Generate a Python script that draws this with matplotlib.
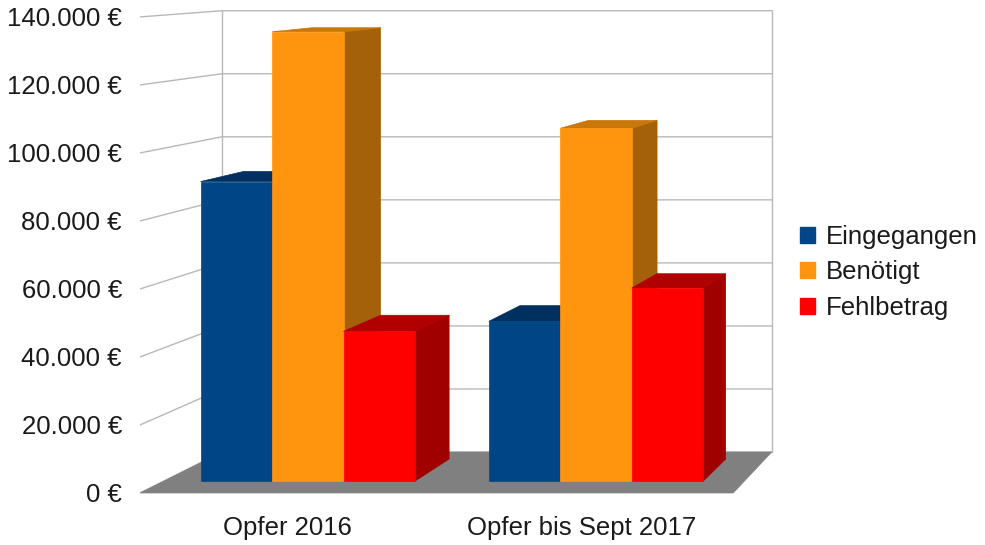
import matplotlib.pyplot as plt
from matplotlib.patches import Polygon, Patch
from matplotlib.ticker import FuncFormatter

plt.rcParams['font.family'] = ['Liberation Sans', 'DejaVu Sans']

# data
categories = ["Opfer 2016", "Opfer bis Sept 2017"]
series = ["Eingegangen", "Benötigt", "Fehlbetrag"]
eingegangen = [90000, 48000]
benoetigt = [135000, 106000]
fehlbetrag = [45000, 58000]
values = [eingegangen, benoetigt, fehlbetrag]

# colours: front, top, side
front_colors = ["#004586", "#ff950e", "#ff0000"]
top_colors = ["#00305f", "#c9760b", "#b00000"]
side_colors = ["#003566", "#a5610a", "#a00000"]

# fake 3D (perspective toward a vanishing point up-right)
VX, VY = 3.31, 165000
S_BACK = 0.927
Z_FRONT, Z_BACK = 0.29, 0.83
X_LEFT, X_RIGHT = -0.5, 1.515
BAR_W = 0.248


def proj(x, y, z):
    s = 1 - (1 - S_BACK) * z
    return VX + (x - VX) * s, VY + (y - VY) * s


fig = plt.figure(figsize=(9.85, 5.45), dpi=100)
ax = fig.add_axes([140 / 985, 52 / 545, 640 / 985, 489 / 545])
ax.set_xlim(-0.5, 1.674)
ax.set_ylim(0, 143800)
ax.patch.set_visible(False)
for sp in ax.spines.values():
    sp.set_visible(False)

grid_c = "#b8b8b8"
ymax = 140000
ticks = list(range(0, ymax + 1, 20000))

# back wall + left wall gridlines
for t in ticks:
    bx0, by0 = proj(X_LEFT, t, 1)
    bx1, by1 = proj(X_RIGHT, t, 1)
    fx, fy = proj(X_LEFT, t, 0)
    ax.plot([fx, bx0, bx1], [fy, by0, by1], color=grid_c, lw=1, zorder=1)
for xe in (X_LEFT, X_RIGHT):
    x0, y0 = proj(xe, 0, 1)
    x1, y1 = proj(xe, ymax, 1)
    ax.plot([x0, x1], [y0, y1], color=grid_c, lw=1, zorder=1)

# floor
floor = [proj(X_LEFT, 0, 0), proj(X_RIGHT, 0, 0), proj(X_RIGHT, 0, 1), proj(X_LEFT, 0, 1)]
ax.add_patch(Polygon(floor, closed=True, fc="#808080", ec="#808080", lw=0.5, zorder=2, clip_on=False))

# bars, left to right
z = 3
for ci in range(len(categories)):
    for si in range(len(series)):
        h = values[si][ci]
        x0 = ci + (si - 1.5) * BAR_W
        x1 = x0 + BAR_W
        side = [proj(x1, 0, Z_FRONT), proj(x1, 0, Z_BACK), proj(x1, h, Z_BACK), proj(x1, h, Z_FRONT)]
        top = [proj(x0, h, Z_FRONT), proj(x1, h, Z_FRONT), proj(x1, h, Z_BACK), proj(x0, h, Z_BACK)]
        front = [proj(x0, 0, Z_FRONT), proj(x1, 0, Z_FRONT), proj(x1, h, Z_FRONT), proj(x0, h, Z_FRONT)]
        ax.add_patch(Polygon(side, closed=True, fc=side_colors[si], ec=side_colors[si], lw=0.5, zorder=z))
        ax.add_patch(Polygon(top, closed=True, fc=top_colors[si], ec=top_colors[si], lw=0.5, zorder=z + 1))
        ax.add_patch(Polygon(front, closed=True, fc=front_colors[si], ec=front_colors[si], lw=0.5, zorder=z + 2))
        z += 3

# axes text
txt_c = "#1a1a1a"
fs = 18.5
ax.set_yticks(ticks)
ax.yaxis.set_major_formatter(FuncFormatter(lambda v, p: f"{v:,.0f} €".replace(",", ".")))
ax.set_xticks(range(len(categories)))
ax.set_xticklabels(categories)
ax.tick_params(axis="y", length=0, pad=13, labelsize=fs, labelcolor=txt_c)
ax.tick_params(axis="x", length=0, pad=16.5, labelsize=fs, labelcolor=txt_c)

handles = [Patch(fc=c, ec=c) for c in front_colors]
fig.legend(handles, series, loc="center left", bbox_to_anchor=(777 / 985, 0.5),
           frameon=False, fontsize=fs, handlelength=0.58, handleheight=0.58,
           handletextpad=0.43, labelspacing=0.44, labelcolor=txt_c)

fig.savefig("out.png", dpi=100)
